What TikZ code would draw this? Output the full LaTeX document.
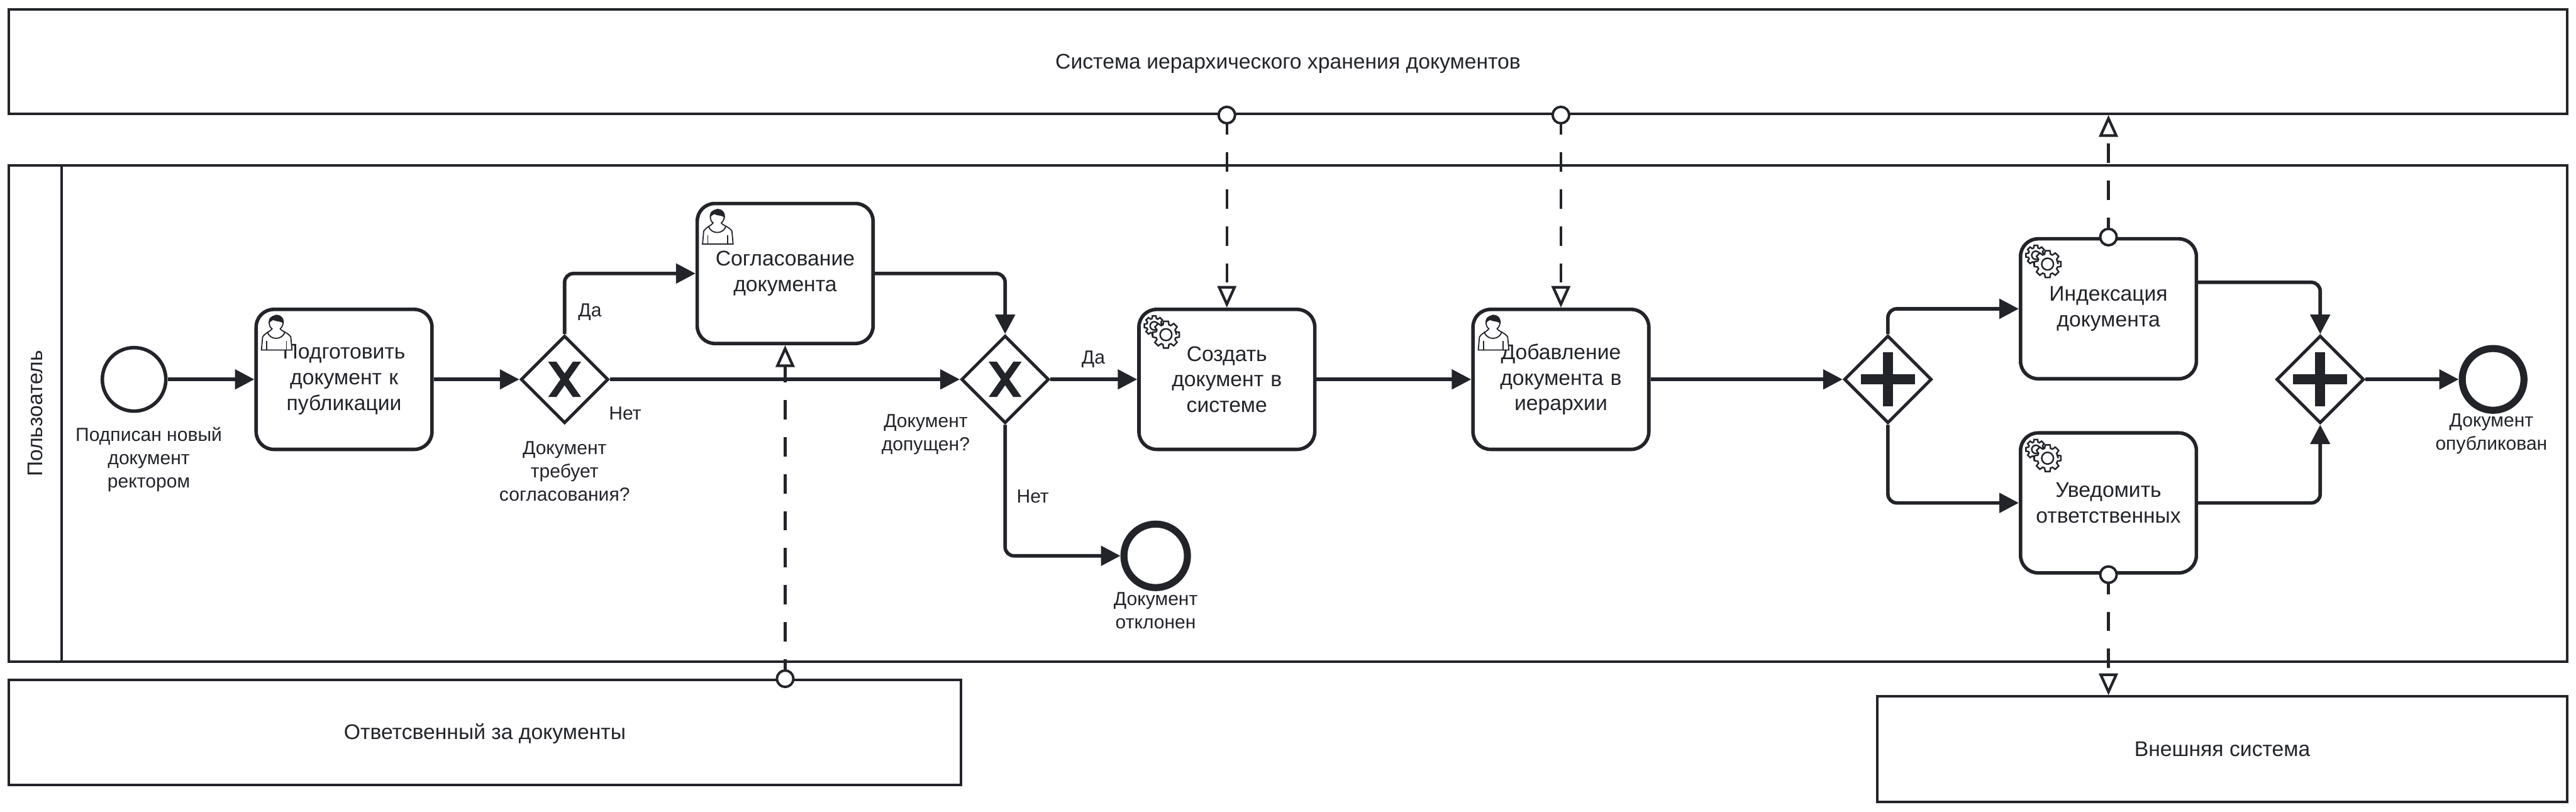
\documentclass[tikz,border=0pt]{standalone}
\usepackage{fontspec}
\setmainfont{Liberation Sans}
\usepackage{xcolor}
\usepackage{tikz}
\usetikzlibrary{arrows.meta, positioning, calc, shapes.geometric}
\definecolor{bpmnink}{HTML}{22242A}
\newcommand{\gearoutline}[3]{
	\draw[line width=0.75pt, fill=white] (#1,#2) ++(0:#3*0.78)
		\foreach \a in {0,45,...,315} {
			-- ($(#1,#2)+(\a-17:#3*0.76)$) -- ($(#1,#2)+(\a-10:#3)$) -- ($(#1,#2)+(\a+10:#3)$) -- ($(#1,#2)+(\a+17:#3*0.76)$)
		} -- cycle;
}
\tikzset{
	usericon/.pic={
		\begin{scope}[x=0.01cm, y=-0.01cm, line width=0.55pt, draw=bpmnink]
			\draw[fill=white] (18,23) .. controls (11,18) and (11,5) .. (25,0) .. controls (39,0) and (40,16) .. (32,23)
				.. controls (34,27) and (46,30) .. (50,37) -- (52,59) -- (0,59) -- (2,37) .. controls (6,30) and (16,27) .. cycle;
			\fill[bpmnink] (12.5,15) .. controls (11,5) and (17,0) .. (25,0) .. controls (33,0) and (39,5) .. (38,15)
				.. controls (33,9) and (28,12) .. (20,8) .. controls (17,10) and (14,11) .. cycle;
			\draw (10,28) .. controls (14,43) and (36,43) .. (40,28);
			\draw (9,44) -- (9,59);
			\draw (42.5,44) -- (42.5,59);
		\end{scope}
	},
	gearicon/.pic={
		\begin{scope}[x=0.01cm, y=-0.01cm, draw=bpmnink]
			\gearoutline{29}{31}{17}
			\draw[line width=0.75pt] (29,31) circle (7);
			\gearoutline{49}{46}{23}
			\draw[line width=0.75pt] (49,46) circle (10);
		\end{scope}
	},
	xmark/.pic={
		\begin{scope}[x=0.01cm, y=-0.01cm]
			\fill[bpmnink] (-28,-30) -- (-14,-30) -- (28,30) -- (14,30) -- cycle;
			\fill[bpmnink] (28,-30) -- (14,-30) -- (-28,30) -- (-14,30) -- cycle;
		\end{scope}
	},
	plusmark/.pic={
		\begin{scope}[x=0.01cm, y=-0.01cm]
			\fill[bpmnink] (-46,-8.5) rectangle (46,8.5);
			\fill[bpmnink] (-8.5,-46) rectangle (8.5,46);
		\end{scope}
	},
}
\begin{document}
\begin{tikzpicture}[y=-1cm,
		poolbox/.style={draw=bpmnink, line width=1.2pt, inner sep=0pt, text=bpmnink, text height=9pt, text depth=2.2pt, font=\fontsize{10.25}{12.4}\selectfont},
		taskbox/.style={draw=bpmnink, line width=1.7pt, rounded corners=0.3cm, fill=white, minimum width=2.99cm, minimum height=2.38cm, text width=2.9cm, inner sep=0pt, align=center, text=bpmnink, font=\fontsize{10.25}{12.4}\selectfont},
		gatebox/.style={diamond, aspect=1, draw=bpmnink, line width=1.5pt, fill=white, minimum size=1.49cm, inner sep=0pt},
		startevent/.style={circle, draw=bpmnink, line width=1.7pt, minimum size=1.08cm, inner sep=0pt},
		endevent/.style={circle, draw=bpmnink, line width=3.4pt, minimum size=#1, inner sep=0pt},
		caption/.style={align=center, inner sep=0pt, text=bpmnink, font=\fontsize{9.15}{11.3}\selectfont},
		seqflow/.style={draw=bpmnink, line width=1.7pt, rounded corners=0.15cm, -{Triangle[length=0.33cm, width=0.33cm]}},
		msgflow/.style={draw=bpmnink, line width=1.3pt, dash pattern=on 0.33cm off 0.30cm, -{Triangle[fill=white, length=0.37cm, width=0.32cm]}},
		msgdot/.style={circle, draw=bpmnink, line width=1.2pt, fill=white, minimum size=0.28cm, inner sep=0pt},
	]
	\useasboundingbox (0,0) rectangle (43.80,13.80);

	\node[poolbox, minimum width=43.50cm, minimum height=1.77cm] (sysstore) at (21.90,1.05) {Система иерархического хранения документов};
	\node[poolbox, minimum width=43.50cm, minimum height=8.44cm] (lane) at (21.90,7.03) {};
	\node[poolbox, minimum width=0.90cm, minimum height=8.44cm] (lanehead) at (0.60,7.03) {};
	\node[rotate=90, inner sep=0pt, text=bpmnink, font=\fontsize{10.25}{12.4}\selectfont] (lanetitle) at (lanehead.center) {Пользоатель};
	\node[poolbox, minimum width=16.19cm, minimum height=1.79cm] (owner) at (8.245,12.455) {Ответсвенный за документы};
	\node[poolbox, minimum width=11.73cm, minimum height=1.79cm] (extsys) at (37.785,12.735) {Внешняя система};

	\node[startevent] (start) at (2.28,6.45) {};
	\node[taskbox] (prepare) at (5.85,6.45) {Подготовить\\документ к\\публикации};
	\node[gatebox] (gwneed) at (9.60,6.45) {};
	\node[taskbox] (approve) at (13.35,4.65) {Согласование\\документа};
	\node[gatebox] (gwadmit) at (17.09,6.45) {};
	\node[taskbox] (create) at (20.86,6.45) {Создать\\документ в\\системе};
	\node[taskbox] (place) at (26.54,6.45) {Добавление\\документа в\\иерархии};
	\node[gatebox] (gwsplit) at (32.10,6.45) {};
	\node[taskbox] (index) at (35.85,5.25) {Индексация\\документа};
	\node[taskbox] (notify) at (35.85,8.55) {Уведомить\\ответственных};
	\node[gatebox] (gwjoin) at (39.45,6.45) {};
	\node[endevent=1.08cm] (rejected) at (19.65,9.45) {};
	\node[endevent=1.05cm] (published) at (42.39,6.45) {};

	\pic at (prepare.north west) [xshift=0.12cm, yshift=-0.13cm] {usericon};
	\pic at (approve.north west) [xshift=0.12cm, yshift=-0.13cm] {usericon};
	\pic at (place.north west) [xshift=0.12cm, yshift=-0.13cm] {usericon};
	\pic at (create.north west) {gearicon};
	\pic at (index.north west) {gearicon};
	\pic at (notify.north west) {gearicon};
	\pic at (gwneed.center) {xmark};
	\pic at (gwadmit.center) {xmark};
	\pic at (gwsplit.center) {plusmark};
	\pic at (gwjoin.center) {plusmark};

	\node[caption] (startlabel) at (2.53,7.81) {Подписан новый\\документ\\ректором};
	\node[caption] (needlabel) at (9.60,8.01) {Документ\\требует\\согласования?};
	\node[caption] (admitlabel) at (15.74,7.385) {Документ\\допущен?};
	\node[caption] (rejectedlabel) at (19.65,10.385) {Документ\\отклонен};
	\node[caption] (publishedlabel) at (42.36,7.38) {Документ\\опубликован};
	\node[caption] (needyes) at (10.03,5.31) {Да};
	\node[caption] (needno) at (10.63,7.03) {Нет};
	\node[caption] (admityes) at (18.59,6.11) {Да};
	\node[caption] (admitno) at (17.56,8.44) {Нет};

	\draw[seqflow] (start) -- (prepare);
	\draw[seqflow] (prepare) -- (gwneed);
	\draw[seqflow] (gwneed.north) |- (approve.west);
	\draw[seqflow] (gwneed.east) -- (gwadmit.west);
	\draw[seqflow] (approve.east) -| (gwadmit.north);
	\draw[seqflow] (gwadmit.east) -- (create.west);
	\draw[seqflow] (gwadmit.south) |- (rejected.west);
	\draw[seqflow] (create) -- (place);
	\draw[seqflow] (place) -- (gwsplit.west);
	\draw[seqflow] (gwsplit.north) |- (index.west);
	\draw[seqflow] (gwsplit.south) |- (notify.west);
	\draw[seqflow] ([yshift=0.45cm]index.east) -| (gwjoin.north);
	\draw[seqflow] (notify.east) -| (gwjoin.south);
	\draw[seqflow] (gwjoin.east) -- (published.west);

	\coordinate (msgcreate) at (create.north |- sysstore.south);
	\coordinate (msgplace) at (place.north |- sysstore.south);
	\coordinate (msgowner) at (approve.south |- owner.north);
	\draw[msgflow] (msgcreate) -- (create.north);
	\draw[msgflow] (msgplace) -- (place.north);
	\draw[msgflow] (msgowner) -- (approve.south);
	\draw[msgflow] (index.north) -- (index.north |- sysstore.south);
	\draw[msgflow] (notify.south) -- (notify.south |- extsys.north);
	\node[msgdot] (dotcreate) at (msgcreate) {};
	\node[msgdot] (dotplace) at (msgplace) {};
	\node[msgdot] (dotowner) at (msgowner) {};
	\node[msgdot] (dotindex) at (index.north) {};
	\node[msgdot] (dotnotify) at (notify.south) {};
\end{tikzpicture}
\end{document}
